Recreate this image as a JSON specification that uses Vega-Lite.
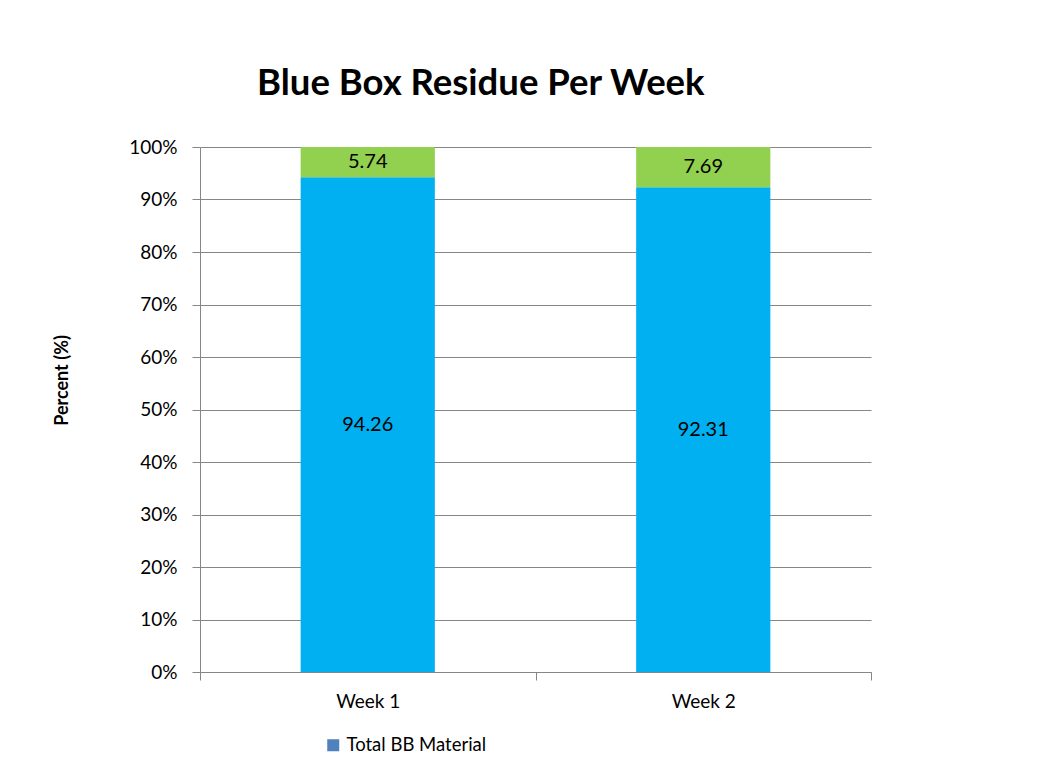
{
  "$schema": "https://vega.github.io/schema/vega-lite/v6.json",
  "width": 671,
  "height": 525,
  "autosize": "none",
  "padding": {"left": 200, "top": 147, "right": 166, "bottom": 100},
  "background": "white",
  "title": {
    "text": "Blue Box Residue Per Week",
    "anchor": "start",
    "frame": "group",
    "dx": 57,
    "offset": 7,
    "baseline": "alphabetic",
    "font": "Lato",
    "fontSize": 36.5,
    "fontWeight": "bold",
    "color": "#000000"
  },
  "datasets": {
    "bars": [
      {"week": "Week 1", "component": "Material", "value": 94.26},
      {"week": "Week 1", "component": "Residue", "value": 5.74},
      {"week": "Week 2", "component": "Material", "value": 92.31},
      {"week": "Week 2", "component": "Residue", "value": 7.69}
    ],
    "legend": [
      {"week": "Week 1", "series": "Total BB Material", "v": 0.5}
    ]
  },
  "layer": [
    {
      "data": {"name": "legend"},
      "mark": {"type": "square", "opacity": 0},
      "encoding": {
        "x": {"field": "week", "type": "nominal"},
        "y": {"field": "v", "type": "quantitative"},
        "fill": {
          "field": "series",
          "type": "nominal",
          "scale": {"range": ["#4F81BD"]},
          "legend": {
            "orient": "none",
            "legendX": 124,
            "legendY": 589,
            "title": null,
            "symbolType": "square",
            "symbolSize": 144,
            "symbolOpacity": 1,
            "symbolStrokeWidth": 0,
            "symbolFillColor": "#4F81BD",
            "labelFont": "Lato",
            "labelFontSize": 18.5,
            "labelColor": "#000000",
            "labelOffset": 4,
            "padding": 0
          }
        }
      }
    },
    {
      "data": {"name": "bars"},
      "transform": [
        {"stack": "value", "groupby": ["week"], "offset": "normalize", "sort": [{"field": "component", "order": "ascending"}], "as": ["y0", "y1"]}
      ],
      "mark": {"type": "bar", "width": {"band": 0.4}},
      "encoding": {
        "x": {"field": "week", "type": "nominal"},
        "y": {"field": "y0", "type": "quantitative"},
        "y2": {"field": "y1"},
        "color": {
          "field": "component",
          "type": "nominal",
          "scale": {"domain": ["Material", "Residue"], "range": ["#00B0F0", "#92D050"]},
          "legend": null
        }
      }
    },
    {
      "data": {"name": "bars"},
      "transform": [
        {"stack": "value", "groupby": ["week"], "offset": "normalize", "sort": [{"field": "component", "order": "ascending"}], "as": ["y0", "y1"]},
        {"calculate": "(datum.y0 + datum.y1) / 2", "as": "ymid"}
      ],
      "mark": {"type": "text", "font": "Lato", "fontSize": 20, "color": "#000000", "baseline": "middle"},
      "encoding": {
        "x": {"field": "week", "type": "nominal"},
        "y": {"field": "ymid", "type": "quantitative"},
        "text": {"field": "value", "type": "quantitative", "format": ".2f"}
      }
    }
  ],
  "encoding": {
    "x": {
      "field": "week",
      "type": "nominal",
      "scale": {"paddingInner": 0, "paddingOuter": 0},
      "axis": {
        "title": null,
        "labelAngle": 0,
        "tickBand": "extent",
        "tickSize": 8,
        "tickColor": "#868686",
        "domainColor": "#868686",
        "labelFont": "Lato",
        "labelFontSize": 19,
        "labelColor": "#000000",
        "labelPadding": 12,
        "grid": false
      }
    },
    "y": {
      "field": "y0",
      "type": "quantitative",
      "scale": {"domain": [0, 1], "nice": false},
      "axis": {
        "format": ".0%",
        "values": [0, 0.1, 0.2, 0.3, 0.4, 0.5, 0.6, 0.7, 0.8, 0.9, 1],
        "grid": true,
        "gridColor": "#868686",
        "domainColor": "#868686",
        "tickColor": "#868686",
        "tickSize": 8,
        "labelFont": "Lato",
        "labelFontSize": 19,
        "labelColor": "#000000",
        "labelPadding": 15,
        "title": "Percent (%)",
        "titleFont": "Lato",
        "titleFontSize": 18,
        "titleFontWeight": "bold",
        "titleColor": "#000000",
        "titleX": -138,
        "titleY": 233,
        "titleAngle": -90,
        "titleAlign": "center",
        "titleBaseline": "middle"
      }
    }
  },
  "config": {"view": {"stroke": null}}
}
